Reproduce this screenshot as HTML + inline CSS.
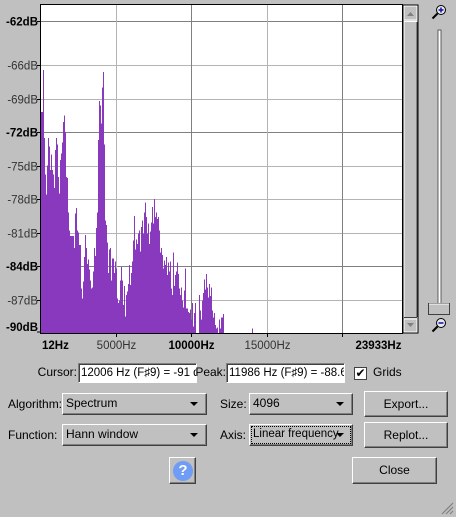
<!DOCTYPE html>
<html><head><meta charset="utf-8">
<style>
body{margin:0;width:456px;height:517px;background:#c0c0c0;font-family:"Liberation Sans",sans-serif;font-size:12px;color:#000;position:relative;overflow:hidden}
.abs{position:absolute}
.tb{position:absolute;background:#fff;border:1px solid #808080;border-right-color:#fff;border-bottom-color:#fff;box-shadow:inset 1px 1px 0 #404040;font-size:11.5px;line-height:18px;padding-left:2px;white-space:nowrap;overflow:hidden;box-sizing:border-box}
.combo{position:absolute;box-sizing:border-box;border:1px solid;border-color:#fff #404040 #404040 #fff;box-shadow:inset -1px -1px 0 #808080;background:#c0c0c0;padding-left:3px;line-height:19px}
.combo:after{content:"";position:absolute;right:8px;top:8px;border-left:4px solid transparent;border-right:4px solid transparent;border-top:4px solid #000}
.btn{position:absolute;box-sizing:border-box;border:1px solid;border-color:#fff #404040 #404040 #fff;box-shadow:inset -1px -1px 0 #808080;background:#c0c0c0;text-align:center}
</style></head><body>
<svg id="chart" class="abs" style="left:0;top:0" width="456" height="358"></svg>

<div class="abs" style="right:379px;top:365px">Cursor:</div>
<div class="tb" style="left:78px;top:363px;width:119px;height:20px">12006 Hz (F♯9) = -91 d</div>
<div class="abs" style="right:230px;top:365px">Peak:</div>
<div class="tb" style="left:226px;top:363px;width:119px;height:20px">11986 Hz (F♯9) = -88.6</div>
<div class="abs" style="left:354px;top:367px;width:13px;height:13px;background:#fff;border:1px solid #404040;box-sizing:border-box;font-size:12px;line-height:11px;text-align:center">✔</div>
<div class="abs" style="left:373px;top:365px">Grids</div>

<div class="abs" style="left:8px;top:397px">Algorithm:</div>
<div class="combo" style="left:62px;top:393px;width:145px;height:22px">Spectrum</div>
<div class="abs" style="left:220px;top:397px">Size:</div>
<div class="combo" style="left:249px;top:393px;width:104px;height:22px">4096</div>
<div class="btn" style="left:364px;top:391px;width:84px;height:26px;line-height:24px">Export...</div>

<div class="abs" style="left:8px;top:428px">Function:</div>
<div class="combo" style="left:62px;top:424px;width:145px;height:22px">Hann window</div>
<div class="abs" style="left:220px;top:428px">Axis:</div>
<div class="combo" style="left:249px;top:424px;width:104px;height:22px;outline:1px dotted #000;outline-offset:-3px;font-size:11.5px">Linear frequency</div>
<div class="btn" style="left:364px;top:422px;width:84px;height:26px;line-height:24px">Replot...</div>

<div class="btn" style="left:169px;top:457px;width:27px;height:27px"><div style="position:absolute;left:3px;top:3px;width:20px;height:20px;border-radius:50%;background:#6f9df5;color:#fff;font-weight:bold;font-size:15px;line-height:20px">?</div></div>
<div class="btn" style="left:352px;top:457px;width:85px;height:27px;line-height:25px">Close</div>
<svg class="abs" style="left:440px;top:501px" width="14" height="14"><path d="M13 2L2 13M13 6L6 13M13 10L10 13" stroke="#808080" stroke-width="1.2"/></svg>

<script>
const dbTicks=[-62,-66,-69,-72,-75,-78,-81,-84,-87,-90];
const dbTickMajor=[1,0,0,1,0,0,0,1,0,1];
const freqTickValues=[12,5000,10000,15000,20000,23933];
const freqTickLabels=["12Hz","5000Hz","10000Hz","15000Hz","","23933Hz"];
const freqTickMajor=[1,0,1,0,1,1];
const binStartHz=12;
const binStepHz=66.7;
const spectrumDb=[-70.2,-70.2,-66.4,-72.5,-75.8,-77.6,-75.0,-72.5,-73.3,-75.4,-74.0,-75.4,-75.8,-77.0,-73.6,-72.5,-73.1,-76.0,-77.5,-74.5,-73.9,-72.9,-71.1,-70.5,-72.0,-76.0,-76.1,-79.2,-80.8,-81.3,-81.3,-81.3,-81.3,-82.4,-79.3,-78.8,-80.8,-81.0,-82.1,-82.1,-86.0,-86.9,-85.4,-83.2,-81.2,-82.4,-83.8,-83.4,-84.3,-85.3,-86.0,-85.9,-84.5,-82.4,-83.1,-80.6,-79.2,-72.7,-69.2,-69.6,-71.2,-68.0,-66.6,-73.1,-79.9,-80.3,-81.9,-84.6,-82.5,-82.4,-85.3,-83.3,-83.3,-84.6,-83.6,-84.2,-86.9,-87.3,-87.1,-85.3,-84.1,-85.3,-87.5,-85.8,-88.5,-86.6,-86.3,-85.6,-83.9,-85.7,-84.6,-83.6,-81.7,-79.5,-82.5,-81.6,-82.0,-81.1,-80.8,-82.7,-80.5,-79.9,-81.1,-79.2,-78.3,-79.6,-81.1,-80.2,-82.0,-80.9,-80.1,-78.7,-80.2,-78.0,-79.6,-79.2,-79.8,-79.6,-80.8,-82.8,-82.4,-83.0,-84.2,-83.5,-83.9,-83.2,-84.8,-83.7,-84.5,-83.6,-86.0,-86.6,-82.8,-85.8,-84.8,-84.5,-83.7,-84.7,-86.0,-86.6,-85.9,-87.1,-87.7,-86.2,-84.2,-87.8,-87.8,-88.1,-88.2,-87.9,-88.8,-87.3,-89.4,-88.2,-87.3,-100,-100,-100,-86.6,-88.0,-88.8,-87.1,-86.4,-85.2,-86.1,-84.7,-85.9,-86.8,-85.6,-86.7,-85.9,-88.0,-88.6,-88.2,-89.3,-89.6,-89.5,-100,-88.8,-89.6,-88.6,-88.6,-88.3,-100,-100,-100,-100,-100,-100,-100,-100,-100,-100,-100,-100,-100,-100,-100,-100,-100,-100,-100,-100,-100,-100,-100,-100,-100,-100,-100,-100,-89.6];

const NS="http://www.w3.org/2000/svg";
const svg=document.getElementById('chart');
const PL=41,PR=402,PT=5,PB=333;
function xScale(f){return PL+(f-12)*(PR-1-PL)/(23933-12);}
function yScale(db){return 20.7+(-62-db)*(312.3/28);}
function mk(tag,attrs){const e=document.createElementNS(NS,tag);for(const k in attrs)e.setAttribute(k,attrs[k]);svg.appendChild(e);return e;}

let bg=mk('rect',{x:PL,y:PT,width:PR-PL,height:PB-PT,fill:'#fff'});



dbTicks.forEach((d,i)=>{
  const y=Math.round(yScale(d))+0.5;
  if(i<dbTicks.length-1){
    const g=mk('line',{x1:PL,x2:PR,y1:y,y2:y,stroke:dbTickMajor[i]?'#808080':'#b4b4b4','stroke-width':1});
    
    
  }
  const tk=mk('line',{x1:PL-4,x2:PL,y1:Math.min(y,PB-1),y2:Math.min(y,PB-1),stroke:'#000'});
  
  
  const ty=i===dbTicks.length-1?PB-2:y+4;
  const t=mk('text',{x:PL-3,y:ty,'text-anchor':'end','font-size':'11.5',fill:dbTickMajor[i]?'#000':'#333','font-weight':dbTickMajor[i]?'bold':'normal','font-family':'Liberation Sans, sans-serif'});
  t.textContent=d+'dB';
  
  
});
freqTickValues.forEach((f,i)=>{
  const x=Math.round(xScale(f))+0.5;
  if(i>0&&i<freqTickValues.length-1){
    const g=mk('line',{x1:x,x2:x,y1:PT,y2:PB,stroke:freqTickMajor[i]?'#808080':'#b4b4b4'});
    
    
    const tk=mk('line',{x1:x,x2:x,y1:PB,y2:PB+4,stroke:'#000'});
    
    
  }
  if(freqTickLabels[i]){
    const anchor=i===0?'start':(i===freqTickValues.length-1?'end':'middle');
    const t=mk('text',{x:i===0?PL+1:x,y:PB+16,'text-anchor':anchor,'font-size':'11.5',fill:freqTickMajor[i]?'#000':'#333','font-weight':freqTickMajor[i]?'bold':'normal','font-family':'Liberation Sans, sans-serif'});
    t.textContent=freqTickLabels[i];
    
    
  }
});
spectrumDb.forEach((d,i)=>{
  if(d<-91)return;
  const f=binStartHz+i*binStepHz;
  const x=Math.floor(xScale(f));
  const y=Math.max(PT,yScale(d));
  const r=mk('rect',{x:x,y:y,width:1,height:PB-y,fill:'#8839be','shape-rendering':'crispEdges'});
  
  
});
let fr=mk('rect',{x:PL-0.5,y:PT-0.5,width:PR-PL+1,height:PB-PT+1,fill:'none',stroke:'#000'});



// scrollbar
let sb=mk('rect',{x:403,y:5,width:15,height:328,fill:'#c0c0c0',stroke:'#000','stroke-width':1});


let up=mk('rect',{x:404,y:6,width:13,height:14,fill:'#c0c0c0',stroke:'#fff'});


mk('path',{d:'M407 16L410.5 12L414 16Z',fill:'#808080'});
let th=mk('rect',{x:404,y:21.5,width:13,height:296,fill:'#c0c0c0',stroke:'#fff'});


mk('line',{x1:417,x2:417,y1:22,y2:317,stroke:'#404040'});
mk('line',{x1:404,x2:417,y1:317.5,y2:317.5,stroke:'#404040'});
let dn=mk('rect',{x:404,y:319,width:13,height:13,fill:'#c0c0c0',stroke:'#fff'});


mk('path',{d:'M407 323L410.5 327L414 323Z',fill:'#808080'});

// zoom slider
let zl=mk('rect',{x:438,y:30,width:3,height:277,fill:'#fff',stroke:'#404040','stroke-width':0.8});


let zt=mk('rect',{x:428.5,y:303.5,width:21,height:11,fill:'#c0c0c0',stroke:'#404040'});


mk('line',{x1:429,x2:449,y1:304,y2:304,stroke:'#fff'});
function mag(cy,plus,name){
  const g=mk('g',{});
  
  
  const c=document.createElementNS(NS,'circle');c.setAttribute('cx',441);c.setAttribute('cy',cy);c.setAttribute('r',4.5);c.setAttribute('fill','#e8e8f0');c.setAttribute('stroke','#000');g.appendChild(c);
  const l=document.createElementNS(NS,'line');l.setAttribute('x1',437.5);l.setAttribute('y1',cy+3.5);l.setAttribute('x2',432.5);l.setAttribute('y2',cy+8.5);l.setAttribute('stroke','#000');l.setAttribute('stroke-width',2);g.appendChild(l);
  const h=document.createElementNS(NS,'line');h.setAttribute('x1',438.5);h.setAttribute('x2',443.5);h.setAttribute('y1',cy);h.setAttribute('y2',cy);h.setAttribute('stroke','#1a1aa0');h.setAttribute('stroke-width',1.6);g.appendChild(h);
  if(plus){const v=document.createElementNS(NS,'line');v.setAttribute('x1',441);v.setAttribute('x2',441);v.setAttribute('y1',cy-2.5);v.setAttribute('y2',cy+2.5);v.setAttribute('stroke','#1a1aa0');v.setAttribute('stroke-width',1.6);g.appendChild(v);}
}
mag(10,true,'zoom-in-icon');
mag(323,false,'zoom-out-icon');
</script>
</body></html>
